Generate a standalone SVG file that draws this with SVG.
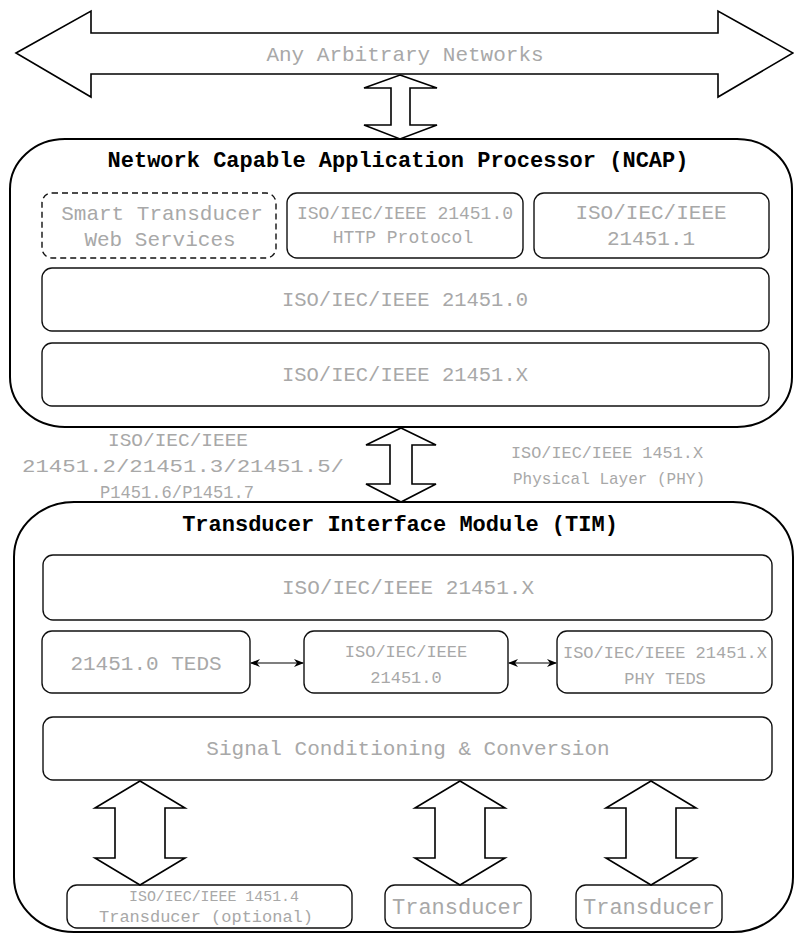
<svg xmlns="http://www.w3.org/2000/svg" width="794" height="935" viewBox="0 0 794 935">
<defs>
<style>
.box{fill:#fff;stroke:#111;stroke-width:1.4}
.dash{fill:#fff;stroke:#111;stroke-width:1.4;stroke-dasharray:6 4}
.outer{fill:#fff;stroke:#000;stroke-width:2}
.big{fill:#fff;stroke:#000;stroke-width:1.6;stroke-linejoin:miter}
.t{font-family:"Liberation Mono","DejaVu Sans Mono",monospace;fill:#a8a8a8;text-anchor:middle}
.title{font-family:"Liberation Mono","DejaVu Sans Mono",monospace;font-weight:bold;fill:#000;text-anchor:middle;font-size:22px}
.line{stroke:#000;stroke-width:1.2;fill:none}
</style>
<marker id="ah" markerWidth="10" markerHeight="8" refX="9" refY="4" orient="auto-start-reverse" markerUnits="userSpaceOnUse">
<path d="M0,0 L10,4 L0,8 L3,4 Z" fill="#000"/>
</marker>
</defs>
<rect width="794" height="935" fill="#fff"/>

<g id="network">
<polygon class="big" points="16,53 91,11 91,33 718,33 718,11 793,53 718,97 718,74 91,74 91,97"/>
<text class="t" x="405" y="61" font-size="21" fill="#959595">Any Arbitrary Networks</text>
</g>

<g id="ncap">
<rect class="outer" x="10" y="139" width="782" height="288" rx="55" ry="50"/>
<text class="title" x="398" y="167">Network Capable Application Processor (NCAP)</text>
</g>
<g id="ncap-web">
<rect class="dash" x="42" y="193" width="234" height="65" rx="10"/>
<text class="t" x="162" y="220" font-size="21">Smart Transducer</text>
<text class="t" x="160" y="246" font-size="21">Web Services</text>
</g>
<g id="ncap-http">
<rect class="box" x="287" y="193" width="236" height="65" rx="10"/>
<text class="t" x="405" y="219" font-size="18">ISO/IEC/IEEE 21451.0</text>
<text class="t" x="403" y="243" font-size="18">HTTP Protocol</text>
</g>
<g id="ncap-1">
<rect class="box" x="534" y="193" width="235" height="65" rx="10"/>
<text class="t" x="651" y="219" font-size="21">ISO/IEC/IEEE</text>
<text class="t" x="651" y="245" font-size="21">21451.1</text>
</g>
<g id="ncap-0">
<rect class="box" x="42" y="268" width="727" height="63" rx="10"/>
<text class="t" x="405" y="306" font-size="20.5">ISO/IEC/IEEE 21451.0</text>
</g>
<g id="ncap-x">
<rect class="box" x="42" y="343" width="727" height="63" rx="10"/>
<text class="t" x="405" y="381" font-size="20.5">ISO/IEC/IEEE 21451.X</text>
</g>

<g id="phy-labels">
<text class="t" x="178" y="446" font-size="19" textLength="140" lengthAdjust="spacingAndGlyphs">ISO/IEC/IEEE</text>
<text class="t" x="183" y="472" font-size="19" textLength="322" lengthAdjust="spacingAndGlyphs">21451.2/21451.3/21451.5/</text>
<text class="t" x="177" y="498" font-size="18" textLength="154" lengthAdjust="spacingAndGlyphs" fill="#b5b5b5">P1451.6/P1451.7</text>
<text class="t" x="607" y="458" font-size="17" textLength="192" lengthAdjust="spacingAndGlyphs" fill="#b5b5b5">ISO/IEC/IEEE 1451.X</text>
<text class="t" x="609" y="484" font-size="17" textLength="192" lengthAdjust="spacingAndGlyphs" fill="#b5b5b5">Physical Layer (PHY)</text>
</g>

<g id="tim">
<rect class="outer" x="14" y="502" width="779" height="430" rx="60" ry="55"/>
<text class="title" x="400" y="531" font-size="23">Transducer Interface Module (TIM)</text>
</g>
<g id="tim-x">
<rect class="box" x="43" y="555" width="729" height="65" rx="10"/>
<text class="t" x="408" y="594" font-size="21">ISO/IEC/IEEE 21451.X</text>
</g>
<g id="tim-teds">
<rect class="box" x="42" y="631" width="208" height="62" rx="10"/>
<text class="t" x="146" y="670" font-size="21" fill="#8e8e8e">21451.0 TEDS</text>
</g>
<g id="tim-0">
<rect class="box" x="304" y="631" width="204" height="62" rx="10"/>
<text class="t" x="406" y="657" font-size="17" fill="#b5b5b5">ISO/IEC/IEEE</text>
<text class="t" x="406" y="683" font-size="17" fill="#b5b5b5">21451.0</text>
</g>
<g id="tim-phy">
<rect class="box" x="557" y="631" width="215" height="62" rx="10"/>
<text class="t" x="665" y="658" font-size="17" fill="#b5b5b5">ISO/IEC/IEEE 21451.X</text>
<text class="t" x="665" y="684" font-size="17" fill="#b5b5b5">PHY TEDS</text>
</g>
<g id="tim-signal">
<rect class="box" x="43" y="717" width="729" height="63" rx="10"/>
<text class="t" x="408" y="755" font-size="21">Signal Conditioning &amp; Conversion</text>
</g>
<g id="trans-opt">
<rect class="box" x="67" y="885" width="285" height="43" rx="10"/>
<text class="t" x="214" y="901" font-size="15" fill="#b5b5b5" textLength="170" lengthAdjust="spacingAndGlyphs">ISO/IEC/IEEE 1451.4</text>
<text class="t" x="206" y="922" font-size="16" fill="#b5b5b5" textLength="214" lengthAdjust="spacingAndGlyphs">Transducer (optional)</text>
</g>
<g id="trans-1">
<rect class="box" x="385" y="885" width="146" height="43" rx="10"/>
<text class="t" x="458" y="914" font-size="22" fill="#6a6a6a">Transducer</text>
</g>
<g id="trans-2">
<rect class="box" x="576" y="885" width="146" height="43" rx="10"/>
<text class="t" x="649" y="914" font-size="22" fill="#6a6a6a">Transducer</text>
</g>

<g id="connectors">
<polygon class="big" points="400,75 437,88 410,88 410,125 437,125 400,139 364,125 391,125 391,88 364,88"/>
<polygon class="big" points="401,428 436,445 412,445 412,484 436,484 401,502 366,484 390,484 390,445 366,445"/>
<polygon class="big" points="140,781 185,808 165,808 165,858 185,858 140,885 95,858 115,858 115,808 95,808"/>
<polygon class="big" points="460,781 505,808 485,808 485,858 505,858 460,885 415,858 435,858 435,808 415,808"/>
<polygon class="big" points="651,781 696,808 676,808 676,858 696,858 651,885 606,858 626,858 626,808 606,808"/>
<line class="line" x1="251" y1="663" x2="303" y2="663" marker-start="url(#ah)" marker-end="url(#ah)"/>
<line class="line" x1="509" y1="663" x2="556" y2="663" marker-start="url(#ah)" marker-end="url(#ah)"/>
</g>
</svg>
